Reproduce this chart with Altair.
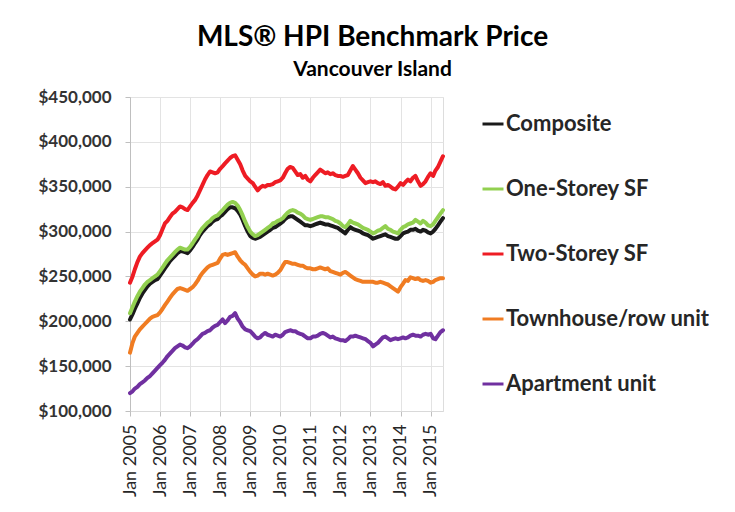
import altair as alt
import pandas as pd

series_names = ["Composite", "One-Storey SF", "Two-Storey SF", "Townhouse/row unit", "Apartment unit"]
series_colors = ["#1a1a1a", "#92d050", "#ee1c24", "#f07c22", "#7030a0"]

# monthly, Jan 2005 .. Jun 2015, values in $ thousands
composite = [
    202, 208, 214, 220, 226, 231, 235, 239, 242, 244, 246, 247,
    251, 255, 259, 263, 267, 270, 273, 276, 278, 278, 277, 276,
    279, 283, 287, 291, 296, 300, 303, 306, 308, 311, 313, 314,
    317, 319, 322, 325, 327, 327, 326, 323, 319, 313, 306, 300,
    295, 293, 292, 293, 294, 296, 298, 300, 302, 304, 305, 307,
    309, 311, 314, 316, 317, 317, 315, 313, 311, 309, 307, 307,
    306, 307, 308, 309, 310, 309, 308, 308, 307, 306, 305, 304,
    302, 300, 298, 302, 305, 303, 302, 301, 300, 298, 297, 296,
    294, 292, 293, 294, 295, 296, 297, 295, 294, 293, 292, 292,
    295, 298, 299, 300, 302, 302, 303, 301, 300, 302, 301, 299,
    298, 300, 303, 307, 311, 315,
]
one_storey = [
    209, 216, 222, 228, 233, 237, 241, 244, 246, 248, 250, 252,
    256, 260, 264, 268, 271, 274, 277, 280, 282, 281, 280, 280,
    283, 287, 291, 295, 300, 304, 307, 310, 312, 315, 317, 318,
    321, 324, 327, 330, 332, 333, 332, 329, 324, 318, 311, 305,
    300, 297, 295, 296, 298, 300, 302, 304, 306, 309, 310, 312,
    313, 315, 318, 321, 323, 324, 323, 321, 320, 318, 315, 314,
    313, 314, 315, 316, 317, 317, 316, 316, 315, 314, 312, 311,
    309, 306, 305, 308, 312, 310, 309, 308, 306, 304, 303, 302,
    300, 298, 299, 301, 302, 304, 306, 303, 302, 300, 299, 298,
    302, 305, 306, 308, 309, 310, 313, 311, 309, 312, 310, 307,
    306, 308, 312, 316, 320, 324,
]
two_storey = [
    243, 250, 258, 266, 272, 276, 279, 282, 285, 287, 289, 291,
    296, 303, 309, 312, 316, 320, 322, 325, 328, 327, 325, 324,
    328, 332, 335, 340, 346, 352, 358, 363, 367, 366, 365, 366,
    370, 373, 376, 379, 382, 384, 385, 380, 375, 368, 362, 359,
    356, 354, 350, 346, 349, 351, 350, 352, 352, 353, 355, 356,
    357, 360, 365, 370, 372, 371, 367, 363, 364, 360, 362, 358,
    356, 360, 363, 366, 369, 367, 365, 366, 364, 365, 363, 362,
    362, 361, 362, 363, 368, 373, 369, 365, 360, 357, 354, 355,
    356, 355, 356, 354, 353, 355, 351, 352, 350, 348, 347, 350,
    354, 352, 355, 358, 356, 360, 362, 356, 351, 353, 356, 361,
    365, 362, 368, 372, 378, 384,
]
townhouse = [
    165, 176, 183, 187, 191, 194, 197, 200, 203, 205, 206, 207,
    210, 214, 218, 222, 226, 230, 233, 236, 237, 236, 235, 234,
    236, 238, 241, 245, 250, 254, 257, 260, 262, 263, 264, 265,
    270, 274, 275, 274, 275, 276, 277, 272, 268, 265, 263, 259,
    255, 252, 250, 251, 253, 253, 252, 253, 252, 251, 252, 254,
    257, 262, 266, 266, 265, 264, 264, 263, 262, 262, 260, 259,
    259, 258, 258, 259, 260, 259, 258, 259, 256, 255, 254, 253,
    252, 254, 255, 253, 251, 249, 247, 246, 245, 244, 244, 244,
    244, 244, 243, 243, 244, 243, 242, 241, 239, 237, 235, 233,
    238, 242, 246, 245, 249, 248, 247, 248, 246, 245, 246, 245,
    243, 244, 246, 247, 248, 248,
]
apartment = [
    120, 122, 125, 127, 130, 132, 134, 137, 139, 142, 145, 148,
    151, 154, 157, 161, 164, 167, 170, 172, 174, 173, 171, 170,
    172, 175, 178, 180, 183, 186, 187, 189, 190, 193, 195, 196,
    199, 202, 198, 201, 205, 206, 209, 203, 199, 194, 191, 190,
    189, 186, 183, 181, 182, 185, 187, 185, 184, 183, 185, 184,
    183, 185, 188, 189, 190, 189, 189, 187, 186, 185, 183, 181,
    181, 183, 183, 184, 186, 187, 186, 184, 182, 183, 181, 180,
    179, 179, 178, 180, 183, 183, 184, 183, 182, 181, 180, 178,
    176, 172, 174, 176, 179, 182, 183, 181, 179, 180, 181, 180,
    181, 182, 181, 182, 184, 185, 184, 184, 183, 185, 186, 185,
    186, 181, 180, 184, 188, 190,
]

tick_years = list(range(2005, 2016))
y_ticks = [100000, 150000, 200000, 250000, 300000, 350000, 400000, 450000]

months = pd.date_range("2005-01-01", periods=len(composite), freq="MS")
all_series = [composite, one_storey, two_storey, townhouse, apartment]
rows = []
for name, vals in zip(series_names, all_series):
    for d, v in zip(months, vals):
        rows.append({"date": d, "price": v * 1000, "series": name})
df = pd.DataFrame(rows)

FONT = "Lato"

chart = alt.Chart(df).mark_line(strokeWidth=4, strokeJoin="round", strokeCap="round").encode(
    x=alt.X(
        "date:T",
        scale=alt.Scale(domain=[alt.DateTime(year=2005, month=1, date=1),
                                alt.DateTime(year=2015, month=6, date=1)]),
        axis=alt.Axis(
            title=None,
            values=[alt.DateTime(year=y, month=1, date=1) for y in tick_years],
            format="Jan %Y",
            labelAngle=270,
            labelFont=FONT,
            labelFontSize=18,
            labelColor="#262626",
            labelPadding=8,
            labelBaseline="middle",
            labelAlign="right",
            tickSize=5,
            tickColor="#bfbfbf",
            domainColor="#d9d9d9",
            gridColor="#e3e3e3",
            labelOverlap=False,
        ),
    ),
    y=alt.Y(
        "price:Q",
        scale=alt.Scale(domain=[100000, 450000], nice=False, zero=False),
        axis=alt.Axis(
            title=None,
            values=y_ticks,
            format="$,.0f",
            labelFont=FONT,
            labelFontSize=17,
            labelFontWeight="bold",
            labelColor="#333333",
            labelPadding=14,
            tickSize=5,
            tickColor="#bfbfbf",
            domainColor="#bfbfbf",
            gridColor="#e3e3e3",
        ),
    ),
    color=alt.Color(
        "series:N",
        scale=alt.Scale(domain=series_names, range=series_colors),
        sort=series_names,
        legend=alt.Legend(
            orient="none",
            legendX=351,
            legendY=15,
            title=None,
            symbolType="stroke",
            symbolSize=441,
            symbolStrokeWidth=3,
            labelFont=FONT,
            labelFontSize=22,
            labelFontWeight="bold",
            labelColor="#262626",
            labelOffset=1,
            rowPadding=42,
            labelLimit=300,
        ),
    ),
    order=alt.Order("series_order:Q"),
).transform_calculate(
    series_order="indexof(['Composite','One-Storey SF','Two-Storey SF','Townhouse/row unit','Apartment unit'], datum.series)"
).properties(
    width=313,
    height=314,
    title=alt.TitleParams(
        "MLS® HPI Benchmark Price",
        subtitle="Vancouver Island",
        font=FONT,
        fontSize=28,
        fontWeight="bold",
        color="#000000",
        subtitleFont=FONT,
        subtitleFontSize=21,
        subtitleFontWeight="bold",
        subtitleColor="#000000",
        subtitlePadding=7,
        anchor="middle",
        dx=86,
        offset=8,
    ),
    autosize=alt.AutoSizeParams(type="none"),
    padding={"left": 122, "top": 89, "right": 284, "bottom": 93},
).configure_view(stroke=None).configure(background="white")

chart.save("out.html", embed_options={"renderer": "svg", "actions": False})
